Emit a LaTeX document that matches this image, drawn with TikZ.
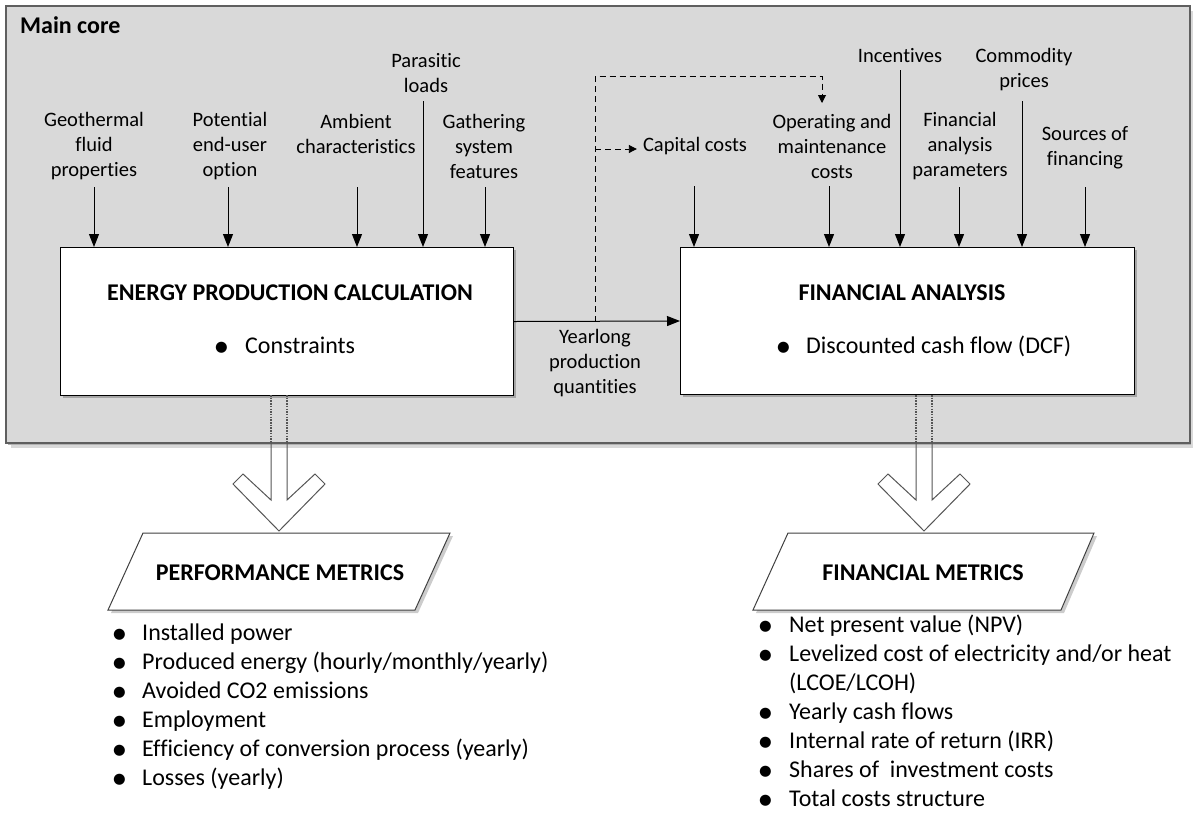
\documentclass[tikz,border=0pt]{standalone}
\usepackage{fontspec}
\setmainfont{Carlito}[Ligatures={NoCommon}]
\newfontfamily\dejavu{DejaVu Sans}
\usetikzlibrary{arrows.meta,calc,shadows}
\definecolor{coregray}{HTML}{D9D9D9}
\definecolor{coreedge}{HTML}{5F5F5F}
\definecolor{hollowedge}{HTML}{555555}
\newcommand{\bigbul}{\raisebox{1.2pt}{{\dejavu\fontsize{14.5}{14.5}\selectfont ●}}}
\begin{document}
\begin{tikzpicture}[x=1pt,y=-1pt,
  lab/.style={font=\fontsize{20.5}{25}\selectfont, align=center, inner sep=0pt},
  big/.style={font=\fontsize{24}{29}\selectfont, inner sep=0pt},
  bigb/.style={font=\fontsize{24}{29}\selectfont\bfseries, inner sep=0pt},
  arr/.style={line width=1pt, -{Triangle[length=13pt,width=10pt]}},
  darr/.style={line width=0.9pt, dash pattern=on 6pt off 4pt, -{Triangle[length=8pt,width=8pt]}},
  box/.style={draw=black, line width=1pt, fill=white, inner sep=0pt,
    drop shadow={shadow xshift=2pt, shadow yshift=-2pt, fill=black!35, opacity=1}},
  corebox/.style={draw=coreedge, line width=2pt, fill=coregray, inner sep=0pt},
  hollow/.style={draw=hollowedge, line width=1pt, line join=miter},
  dots/.style={draw=hollowedge, line width=1.3pt, dash pattern=on 1.5pt off 1.2pt},
  para/.style={draw=black!75, line width=1pt, fill=white},
  parashadow/.style={fill=black!20},
  bul/.style={big, anchor=base west},
]
\useasboundingbox (0,0) rectangle (1193,812);

% main core with soft shadow
\fill[black!15] (11,11) rectangle (1193,448);
\fill[black!30] (8,8) rectangle (1191,445);
\node[corebox, minimum width=1184pt, minimum height=437pt, anchor=north west] (core) at (5,5) {};
\node[bigb, anchor=base west] (title) at (20,33) {Main core};

% process boxes
\node[box, minimum width=453pt, minimum height=148pt, anchor=north west] (ep) at (60,247) {};
\node[box, minimum width=454pt, minimum height=147pt, anchor=north west] (fa) at (680,247) {};

\node[bigb, anchor=base] (ept) at (290,300) {ENERGY PRODUCTION CALCULATION};
\node[bul] (epb) at (215,353) {\makebox[30pt][l]{\bigbul}Constraints};
\node[bigb, anchor=base] (fat) at (902,300) {FINANCIAL ANALYSIS};
\node[bul] (fab) at (777,353) {\makebox[29pt][l]{\bigbul}Discounted cash flow (DCF)};

% input labels
\node[lab] (geo) at (94,146) {Geothermal\\fluid\\properties};
\node[lab] (peu) at (230,146) {Potential\\end-user\\option};
\node[lab] (amb) at (356,134) {Ambient\\characteristics};
\node[lab] (par) at (426,73) {Parasitic\\loads};
\node[lab] (gat) at (484,146) {Gathering\\system\\features};
\node[lab] (cap) at (695,146) {Capital costs};
\node[lab] (om) at (832,146) {Operating and\\maintenance\\costs};
\node[lab] (inc) at (900,56) {Incentives};
\node[lab] (fap) at (960,146) {Financial\\analysis\\parameters};
\node[lab] (com) at (1024,70) {Commodity\\prices};
\node[lab] (sof) at (1085,148) {Sources of\\financing};

% input arrows
\foreach \n/\x/\y in {geo/94/187, peu/228/187, amb/357/187, par/423/101, gat/485/187}{
  \coordinate (s\n) at (\x,\y);
  \draw[arr] (s\n) -- (s\n |- ep.north);
}
\foreach \n/\x/\y in {cap/694/186, om/829/186, inc/900/70, fap/959/187, com/1022/101, sof/1085/187}{
  \coordinate (s\n) at (\x,\y);
  \draw[arr] (s\n) -- (s\n |- fa.north);
}

% production flow
\node[lab] (yl) at (595,363) {Yearlong\\production\\quantities};
\draw[arr] (ep.east) -- (fa.west);

% dashed feedback
\coordinate (dtop) at (595,76);
\coordinate (dom) at (822,103);
\coordinate (dbr) at (595,149);
\coordinate (capin) at ([xshift=-6pt]cap.west);
\draw[darr] (yl.north |- ep.east) -- (dtop) -| (dom);
\draw[darr] (dbr) -- (capin |- dbr);

% hollow arrows to metrics
\draw[dots] (271,395) -- (271,442);
\draw[dots] (287,395) -- (287,442);
\draw[hollow] (271,442) -- (271,500) -- (243,474) -- (233,484) -- (279,531) -- (325,484) -- (315,474) -- (287,500) -- (287,442);
\draw[dots] (916,395) -- (916,442);
\draw[dots] (932,395) -- (932,442);
\draw[hollow] (916,442) -- (916,500) -- (888,474) -- (878,484) -- (924,531) -- (970,484) -- (960,474) -- (932,500) -- (932,442);

% metric parallelograms
\fill[parashadow] (111,613) -- (146,536) -- (453,536) -- (418,613) -- cycle;
\draw[para] (108,610) -- (143,533) -- (450,533) -- (415,610) -- cycle;
\node[bigb, anchor=base] (pmt) at (280,580) {PERFORMANCE METRICS};
\fill[parashadow] (756,613) -- (791,536) -- (1097,536) -- (1064,613) -- cycle;
\draw[para] (753,610) -- (788,533) -- (1094,533) -- (1061,610) -- cycle;
\node[bigb, anchor=base] (fmt) at (923,580) {FINANCIAL METRICS};

% lists
\node[bul] (plist) at (113,640) {\begin{tabular}[t]{@{}p{29pt}@{}l@{}}
\bigbul & Installed power\\
\bigbul & Produced energy (hourly/monthly/yearly)\\
\bigbul & Avoided CO2 emissions\\
\bigbul & Employment\\
\bigbul & Efficiency of conversion process (yearly)\\
\bigbul & Losses (yearly)
\end{tabular}};
\node[bul] (flist) at (759,632) {\begin{tabular}[t]{@{}p{30pt}@{}l@{}}
\bigbul & Net present value (NPV)\\
\bigbul & Levelized cost of electricity and/or heat\\
 & (LCOE/LCOH)\\
\bigbul & Yearly cash flows\\
\bigbul & Internal rate of return (IRR)\\
\bigbul & Shares of~ investment costs\\
\bigbul & Total costs structure
\end{tabular}};
\end{tikzpicture}
\end{document}
